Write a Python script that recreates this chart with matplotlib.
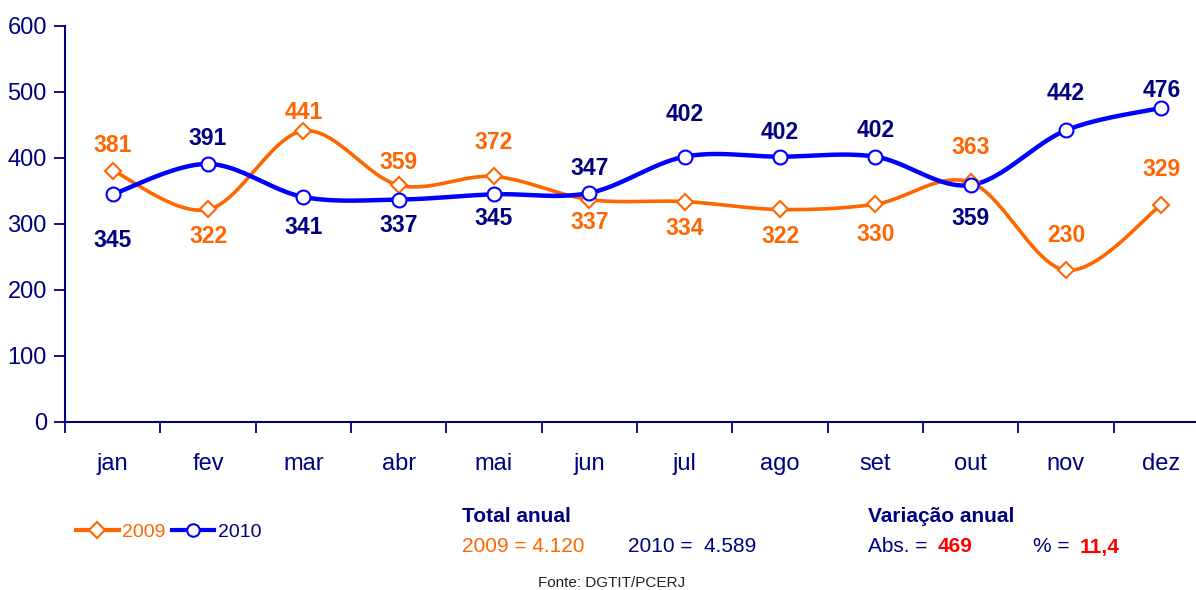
import numpy as np
import matplotlib.pyplot as plt
from matplotlib.lines import Line2D

# dados
meses = ['jan', 'fev', 'mar', 'abr', 'mai', 'jun', 'jul', 'ago', 'set', 'out', 'nov', 'dez']
v2009 = [381, 322, 441, 359, 372, 337, 334, 322, 330, 363, 230, 329]
v2010 = [345, 391, 341, 337, 345, 347, 402, 402, 402, 359, 442, 476]

# deslocamento vertical dos rotulos (pixels, negativo = acima)
dy2009 = [-25, 27, -18, -23, -34, 23, 27, 27, 30, -35, -35, -35]
dy2010 = [46, -25, 31, 26, 24, -24, -42, -24, -26, 33, -37, -17]

laranja = '#FF6600'
azul = '#0000FF'
marinho = '#000080'

plt.rcParams['font.family'] = ['Liberation Sans Narrow', 'Liberation Sans', 'DejaVu Sans']


def suaviza(y, n=30):
    # curva tipo catmull-rom, parecida com a linha suavizada do excel
    y = np.asarray(y, float)
    x = np.arange(len(y), dtype=float)
    p = np.vstack([x, y]).T
    p = np.vstack([p[0], p, p[-1]])
    out = []
    for i in range(1, len(p) - 2):
        p0, p1, p2, p3 = p[i - 1], p[i], p[i + 1], p[i + 2]
        t = np.linspace(0, 1, n)[:, None]
        c = 0.5 * ((2 * p1) + (-p0 + p2) * t + (2 * p0 - 5 * p1 + 4 * p2 - p3) * t ** 2
                   + (-p0 + 3 * p1 - 3 * p2 + p3) * t ** 3)
        out.append(c)
    c = np.vstack(out)
    return c[:, 0], c[:, 1]


fig = plt.figure(figsize=(11.96, 5.90), dpi=100)
ax = fig.add_axes([65 / 1196, 1 - 422 / 590, 1144 / 1196, 396 / 590])

x = np.arange(len(meses))
sx, sy = suaviza(v2009)
ax.plot(sx, sy, color=laranja, lw=2.6, zorder=2)
ax.plot(x, v2009, ls='none', marker='D', ms=8, mfc='white', mec=laranja, mew=1.5, zorder=4)
sx, sy = suaviza(v2010)
ax.plot(sx, sy, color=azul, lw=3.2, zorder=3)
ax.plot(x, v2010, ls='none', marker='o', ms=10, mfc='white', mec=azul, mew=1.5, zorder=5)

for i in range(len(meses)):
    ax.annotate(str(v2009[i]), (x[i], v2009[i]), xytext=(0, -dy2009[i] * 0.72), textcoords='offset points',
                ha='center', va='center', color=laranja, fontsize=16.5, fontweight='bold')
    ax.annotate(str(v2010[i]), (x[i], v2010[i]), xytext=(0, -dy2010[i] * 0.72), textcoords='offset points',
                ha='center', va='center', color=marinho, fontsize=16.5, fontweight='bold')

ax.set_xlim(-0.5, 11.5)
ax.set_ylim(0, 600)
ax.set_yticks(range(0, 601, 100))
ax.set_xticks(x)
ax.set_xticklabels(meses)
ax.set_xticks(np.arange(-0.5, 12, 1), minor=True)
ax.tick_params(axis='x', which='major', length=0, pad=22, labelsize=17, labelcolor=marinho)
ax.tick_params(axis='x', which='minor', length=8, width=1.3, color=marinho, direction='out')
ax.tick_params(axis='y', length=8, width=1.3, color=marinho, labelsize=17, labelcolor=marinho, pad=5)
for s in ['top', 'right']:
    ax.spines[s].set_visible(False)
for s in ['left', 'bottom']:
    ax.spines[s].set_color(marinho)
    ax.spines[s].set_linewidth(1.5)

# legenda
h1 = Line2D([], [], color=laranja, lw=3, marker='D', ms=8, mfc='white', mec=laranja, mew=1.5)
h2 = Line2D([], [], color=azul, lw=3, marker='o', ms=9, mfc='white', mec=azul, mew=1.5)
leg = fig.legend([h1, h2], ['2009', '2010'], loc='center left', bbox_to_anchor=(66 / 1196, 1 - 532 / 590),
                 ncol=2, frameon=False, fontsize=14, handlelength=2.2, handletextpad=0.2, columnspacing=0.3,
                 borderpad=0)
leg.get_texts()[0].set_color(laranja)
leg.get_texts()[1].set_color(marinho)

# totais
def txt(px, py, s, **kw):
    fig.text(px / 1196, 1 - py / 590, s, va='center', **kw)

txt(462, 517, 'Total anual', color=marinho, fontsize=15, fontweight='bold')
txt(462, 547, '2009 = 4.120', color=laranja, fontsize=15)
txt(628, 547, '2010 =  4.589', color=marinho, fontsize=15)
txt(868, 517, 'Variação anual', color=marinho, fontsize=15, fontweight='bold')
txt(868, 547, 'Abs. =', color=marinho, fontsize=15)
txt(938, 547, '469', color='#FF0000', fontsize=15, fontweight='bold')
txt(1033, 547, '% =', color=marinho, fontsize=15)
txt(1080, 547, '11,4', color='#FF0000', fontsize=15, fontweight='bold')
fig.text(612 / 1196, 1 - 583 / 590, 'Fonte: DGTIT/PCERJ', ha='center', va='center', color='#222222', fontsize=11)

fig.savefig('out.png', dpi=100, facecolor='white')
